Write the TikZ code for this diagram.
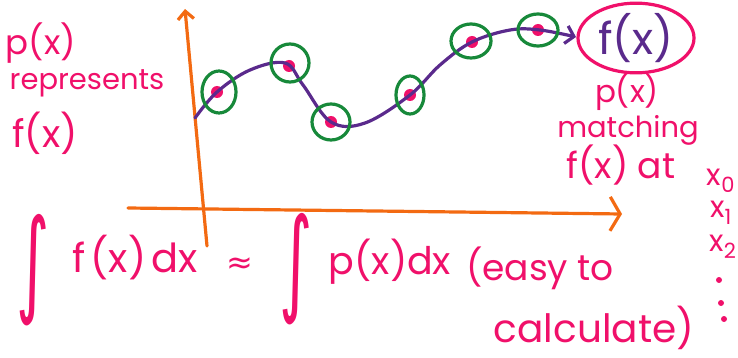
\documentclass[tikz,border=0pt]{standalone}
\usepackage{fontspec}
\usepackage{graphicx}
\setmainfont{Poppins}
\newfontfamily\symfont{DejaVu Sans}
\usetikzlibrary{arrows.meta,shapes.geometric}
\definecolor{pinkc}{HTML}{F0106A}
\definecolor{orangec}{HTML}{F36A12}
\definecolor{purplec}{HTML}{5A2A8C}
\definecolor{greenc}{HTML}{17893A}
\newcommand{\fs}[1]{\fontsize{#1}{#1}\selectfont}
\tikzset{
  txt/.style={text=pinkc, inner sep=0pt, font=\fs{30}},
  axis/.style={draw=orangec, line width=3.2pt, line cap=round},
  ring/.style={draw=greenc, line width=3.2pt, ellipse, inner sep=0pt},
  dot/.style={circle, fill=pinkc, inner sep=0pt, minimum size=12pt},
  curve/.style={draw=purplec, line width=3.2pt, line cap=round},
}
\begin{document}
\begin{tikzpicture}[x=1pt,y=-1pt]
\useasboundingbox (0,0) rectangle (738,358);
% axes
\coordinate (yb) at (207,246);
\coordinate (yt) at (185,9);
\coordinate (xl) at (128,208);
\coordinate (xr) at (622,214);
\draw[axis, -{Straight Barb[length=8pt,width=16pt,line width=3.2pt]}] (yb) -- (yt);
\draw[axis, -{Straight Barb[length=10pt,width=34pt,line width=3.2pt]}] (xl) -- (xr);
% f(x) ellipse
\node[draw=pinkc, line width=3.2pt, ellipse, minimum width=116pt, minimum height=66pt, inner sep=0pt,
  text=purplec, font=\fs{44}] (fx) at (636,38) {f(x)};
% dots
\node[dot] (d1) at (217,92) {};
\node[dot] (d2) at (289,66) {};
\node[dot] (d3) at (331,122) {};
\node[dot] (d4) at (410,95) {};
\node[dot] (d5) at (472,42) {};
\node[dot] (d6) at (538,30) {};
% curve
\coordinate (c0) at (195,118);
\draw[curve, -{Straight Barb[length=8pt,width=18pt,line width=3.2pt]}]
  plot[smooth, tension=0.6] coordinates {(195,118) (217,92) (250,70) (285,63) (303,85) (331,122) (365,123) (410,95) (440,65) (472,42) (510,30) (540,30) (576,37)};
% rings
\node[ring, minimum width=34pt, minimum height=42pt] (r1) at (219,92) {};
\node[ring, minimum width=38pt, minimum height=38pt] (r2) at (290,63) {};
\node[ring, minimum width=38pt, minimum height=36pt] (r3) at (331,122) {};
\node[ring, minimum width=28pt, minimum height=38pt] (r4) at (410,95) {};
\node[ring, minimum width=40pt, minimum height=34pt] (r5) at (471,41) {};
\node[ring, minimum width=40pt, minimum height=32pt] (r6) at (538,30) {};
% left labels
\node[txt, font=\fs{34}] (l1) at (41,43) {p(x)};
\node[txt, font=\fs{29}] (l2) at (87,83) {represents};
\node[txt, font=\fs{38}] (l3) at (45,133) {f(x)};
% right labels
\node[txt, font=\fs{31}] (m1) at (627,92) {p(x)};
\node[txt, font=\fs{29}] (m2) at (628,130) {matching};
\node[txt, font=\fs{36}] (m3) at (621,165) {f(x) at};
\node[txt] (x0) at (721,181) {x\textsubscript{0}};
\node[txt] (x1) at (721,213) {x\textsubscript{1}};
\node[txt] (x2) at (723,247) {x\textsubscript{2}};
\node[dot, minimum size=6pt] (e1) at (719,280) {};
\node[dot, minimum size=6pt] (e2) at (721,303) {};
\node[dot, minimum size=6pt] (e3) at (724,319) {};
% bottom formula
\node[txt, font=\symfont\fs{64}] (i1) at (33,270) {\scalebox{1}[1.8]{∫}};
\node[txt, font=\fs{40}] (f1) at (135,258) {f\hspace{5pt}(x)\hspace{5pt}dx};
\node[txt, font=\symfont\fs{32}] (ap) at (240,266) {≈};
\node[txt, font=\symfont\fs{64}] (i2) at (296,269) {\scalebox{1}[1.8]{∫}};
\node[txt, font=\fs{38}] (f2) at (390,262) {p(x)dx};
\node[txt, font=\fs{36}] (f3) at (540,268) {(easy to};
\node[txt, font=\fs{39}] (f4) at (594,328) {calculate)};
\end{tikzpicture}
\end{document}
